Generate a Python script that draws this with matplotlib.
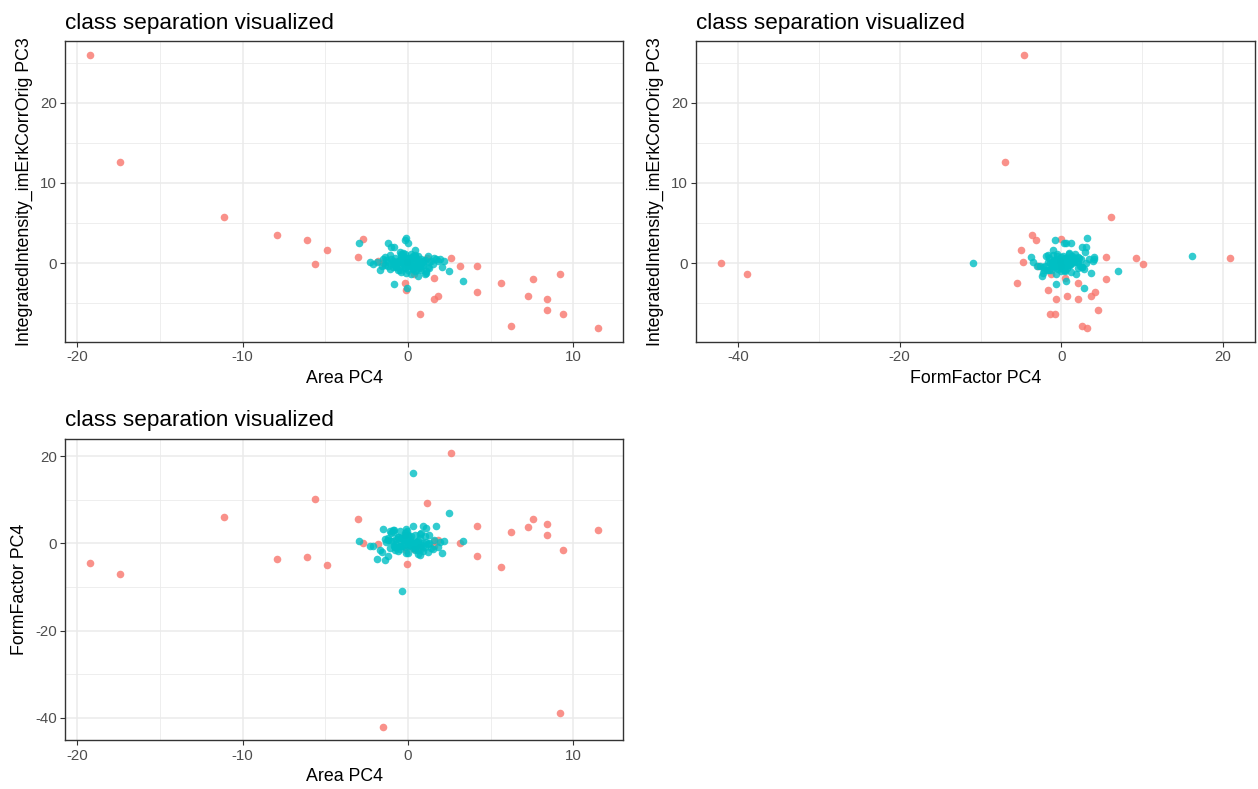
import matplotlib
matplotlib.use("Agg")
import matplotlib.pyplot as plt
from matplotlib.ticker import MultipleLocator

plt.rcParams["font.family"] = ["Liberation Sans", "DejaVu Sans"]
plt.rcParams["axes.unicode_minus"] = False

RED = "#F8766D"
TEAL = "#00BFC4"

# outlier class (red): Area PC4, IntegratedIntensity PC3, FormFactor PC4
red_area = [-19.2, -17.4, -11.1, -7.9, -6.1, -5.6, -4.9, -2.75, -3.0, 2.6,
            3.15, 4.2, 1.6, -0.2, -0.13, 0.37, 1.8, 1.55, 0.7, 4.15,
            5.6, 7.55, 9.2, 7.27, 8.42, 8.42, 9.4, 6.2, 11.47, -1.5,
            1.15, -0.07, -1.8]
red_int = [26.0, 12.6, 5.7, 3.5, 2.9, -0.1, 1.6, 3.0, 0.8, 0.7,
           -0.3, -0.3, -1.9, -2.5, -3.4, -1.4, -4.1, -4.5, -6.3, -3.6,
           -2.5, -2.0, -1.4, -4.1, -4.5, -5.8, -6.3, -7.8, -8.13, 0.0,
           0.66, 0.2, 0.3]
red_ff = [-4.6, -6.95, 6.1, -3.6, -3.1, 10.1, -5.0, 0.0, 5.5, 20.8,
          0.0, -2.9, 0.5, 2.0, -1.6, -1.35, 0.75, -0.7, -0.85, 4.1,
          -5.5, 5.5, -38.9, 3.7, 2.0, 4.5, -1.45, 2.6, 3.13, -42.05,
          9.25, -4.7, -0.15]

# main class (teal)
teal_area = [-0.37, 0.3, 2.5, -0.07, -0.1, -0.84, -0.2, 0.0, -0.84, 3.3,
             -2.99, 2.07, 1.96, -2.3, -2.1, -1.7, -1.23, 0.3, 1.3, -1.0, 2.2,
             -0.9, -0.5, -0.2, 0.1, 0.4, 0.7, 1.0, -1.2, -0.6, 0.3,
             -0.3, 0.0, 0.5, 0.8, -0.8, -1.4, 1.2, 0.2, -0.1, 0.6,
             -0.7, -0.4, 0.9, 1.4, -1.1, 0.1, -0.2, 0.4, 0.0, -0.5,
             1.1, -0.9, 0.3, 0.6, -0.3, -1.6, 1.6, 0.2, -0.6, 0.8,
             -0.1, 0.5, -1.0, 0.7, -0.4, 1.3, -0.8, 0.0, 0.3, -0.2,
             0.9, -1.3, 0.4, -0.7, 0.1, 1.8, -0.5, 0.6, -0.9, 0.2,
             -0.3, 1.0, -1.1, 0.5, 0.0, -0.6, 0.8, -0.2, 1.5, -1.5,
             0.3, -0.4, 0.7, -0.8, 0.1, 1.2, -0.1, 0.4, -0.7, 0.9,
             -1.9, 1.7, -1.2, 1.1, -0.5, 0.6, -1.4, 0.9, -0.2, 0.4]
teal_int = [0.0, 0.95, -0.95, -3.1, 3.2, 2.07, 2.9, 2.5, -2.66, -2.2,
            2.57, -0.54, 0.5, 0.17, -0.1, -0.8, 2.53, 0.8, 0.2, 2.0, 0.3,
            0.3, -0.4, 0.6, -0.1, 0.2, -0.6, 0.4, 0.1, -0.9, 0.8,
            0.0, -0.3, -0.8, 0.5, 0.7, -0.2, -0.5, 1.1, -1.2, 0.2,
            -0.5, 0.9, -0.2, 0.3, -0.7, 0.5, -0.6, 1.0, 0.1, 0.4,
            -1.0, 0.0, -0.4, 0.9, 1.3, -0.3, 0.6, -1.4, 0.3, -0.9,
            0.7, -0.1, 0.5, -0.3, -1.1, -0.6, 0.2, 0.6, -0.7, 1.2,
            0.1, 0.4, 0.8, -0.4, -0.2, 0.3, -0.8, 0.0, -0.5, 0.4,
            0.9, -1.3, 1.0, 0.6, -0.9, 0.1, -0.3, 0.2, -0.1, 0.5,
            -0.6, 1.1, 0.0, -0.2, 0.7, 0.9, -0.4, -1.0, -0.1, 0.3,
            0.2, 0.5, -0.3, -1.2, 1.4, -1.6, 0.8, 0.3, -0.5, 1.6]
teal_ff = [-10.9, 16.2, 7.0, 2.8, 3.2, 3.1, -0.8, 0.3, -0.65, 0.6,
           0.6, -2.3, 0.4, -0.7, -0.7, -1.5, 1.2, 4.05, 2.0, 2.5, 0.5,
           0.5, -1.2, 1.5, 0.2, -0.4, 2.1, -0.9, 0.8, -1.8, 0.0,
           1.1, -0.6, 0.3, 2.4, -1.5, 0.9, -0.2, 1.7, -2.3, 0.6,
           -0.8, 1.3, 0.1, -1.1, 2.8, -0.3, 0.7, -1.6, 1.9, -0.5,
           0.4, 3.1, -1.0, 0.2, 1.0, -2.0, 0.8, -0.7, 1.4, -1.3,
           2.2, -0.1, 0.6, -2.6, 1.2, 0.0, -0.9, 1.6, -0.4, 0.9,
           -1.7, 0.3, 2.0, -0.2, 1.1, -0.8, 0.5, -1.4, 2.6, 0.1,
           -0.6, 1.8, -1.0, 0.4, -2.1, 1.5, -0.3, 0.7, -1.2, 3.4,
           0.2, -0.5, 1.3, -0.9, 0.6, -1.9, 2.3, 0.0, 1.0, -0.7,
           -3.5, 4.0, -3.0, 3.6, 2.9, -2.4, -3.8, 3.9, 2.5, -1.1]

TITLE = "class separation visualized"
LBL_AREA = "Area PC4"
LBL_INT = "IntegratedIntensity_imErkCorrOrig PC3"
LBL_FF = "FormFactor PC4"


def padded(values):
    lo, hi = min(values), max(values)
    span = hi - lo
    return lo - 0.05 * span, hi + 0.05 * span


def style_axes(ax, xmajor, ymajor):
    ax.xaxis.set_major_locator(MultipleLocator(xmajor))
    ax.xaxis.set_minor_locator(MultipleLocator(xmajor / 2))
    ax.yaxis.set_major_locator(MultipleLocator(ymajor))
    ax.yaxis.set_minor_locator(MultipleLocator(ymajor / 2))
    ax.grid(which="major", color="#EBEBEB", lw=1.1)
    ax.grid(which="minor", color="#EBEBEB", lw=0.6)
    ax.set_axisbelow(True)
    for s in ax.spines.values():
        s.set_color("#333333")
        s.set_linewidth(1.0)
    ax.tick_params(which="major", length=3.5, width=0.8, color="#333333",
                   labelcolor="#4D4D4D", labelsize=10.8, pad=2.5)
    ax.tick_params(which="minor", length=0)


def scatter_panel(ax, rx, ry, tx, ty, xlabel, ylabel, xmajor, ymajor):
    ax.scatter(rx, ry, s=30, color=RED, alpha=0.8, linewidths=0)
    ax.scatter(tx, ty, s=30, color=TEAL, alpha=0.8, linewidths=0)
    ax.set_xlim(*padded(list(rx) + list(tx)))
    ax.set_ylim(*padded(list(ry) + list(ty)))
    style_axes(ax, xmajor, ymajor)
    ax.set_title(TITLE, loc="left", fontsize=16.2, pad=9)
    ax.set_xlabel(LBL_AREA if xlabel == "area" else LBL_FF, fontsize=12.8, labelpad=4)
    ax.set_ylabel(ylabel, fontsize=12.8, labelpad=5)


fig = plt.figure(figsize=(12.58, 7.89), dpi=100)
ax1 = fig.add_axes([0.0517, 0.5665, 0.4436, 0.3815])
ax2 = fig.add_axes([0.5533, 0.5665, 0.4443, 0.3815])
ax3 = fig.add_axes([0.0517, 0.0615, 0.4436, 0.3821])

scatter_panel(ax1, red_area, red_int, teal_area, teal_int, "area", LBL_INT, 10, 10)
scatter_panel(ax2, red_ff, red_int, teal_ff, teal_int, "ff", LBL_INT, 20, 10)
scatter_panel(ax3, red_area, red_ff, teal_area, teal_ff, "area", LBL_FF, 10, 20)

fig.savefig("out.png", dpi=100)
